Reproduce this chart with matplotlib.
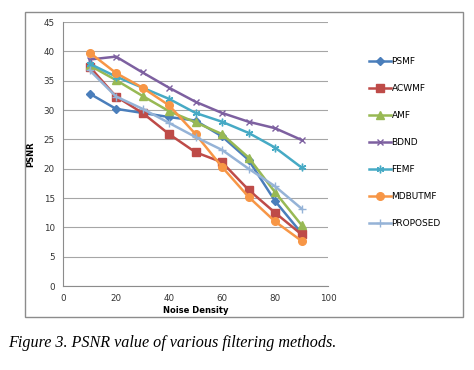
import matplotlib
matplotlib.use('Agg')
import matplotlib.pyplot as plt
from matplotlib.patches import Rectangle

# ---- data ----
noise = [10, 20, 30, 40, 50, 60, 70, 80, 90]
psmf = [32.8, 30.2, 29.5, 28.8, 28.2, 25.5, 21.5, 14.5, 9.0]
acwmf = [37.4, 32.3, 29.5, 25.9, 22.8, 21.1, 16.4, 12.5, 8.8]
amf = [37.6, 35.1, 32.4, 29.8, 27.9, 25.9, 21.9, 16.0, 10.4]
bdnd = [38.6, 39.1, 36.4, 33.8, 31.4, 29.5, 28.0, 26.9, 24.9]
femf = [37.9, 35.7, 33.8, 31.9, 29.5, 28.0, 26.1, 23.6, 20.2]
mdbutmf = [39.8, 36.3, 33.8, 30.8, 25.9, 20.3, 15.2, 11.0, 7.7]
proposed = [36.8, 32.3, 30.2, 27.8, 25.4, 23.2, 20.0, 17.0, 13.2]

names = ['PSMF', 'ACWMF', 'AMF', 'BDND', 'FEMF', 'MDBUTMF', 'PROPOSED']
series = [psmf, acwmf, amf, bdnd, femf, mdbutmf, proposed]
colors = ['#4A7EBB', '#BE4B48', '#98B954', '#7D60A0', '#46AAC5', '#F79646', '#95B3D7']
markers = ['D', 's', '^', 'x', (6, 2, 0), 'o', '+']
msizes = [4, 5.5, 5.5, 4.5, 5.5, 5.5, 5.5]

fig = plt.figure(figsize=(4.74, 3.70), dpi=100)

# chart frame (Excel-like gray border)
fig.patches.append(Rectangle((25/474, 1-317/370), 438/474, 305/370,
                             transform=fig.transFigure, fill=False,
                             edgecolor='#8c8c8c', linewidth=1.0))

ax = fig.add_axes([63/474, 1-286/370, 265/474, 264/370])
for name, vals, c, m, ms in zip(names, series, colors, markers, msizes):
    ax.plot(noise, vals, color=c, marker=m, markersize=ms, linewidth=1.8,
            markeredgewidth=1.0, label=name)

ax.set_xlim(0, 100)
ax.set_ylim(0, 45)
ax.set_xticks(range(0, 101, 20))
ax.set_yticks(range(0, 46, 5))
ax.yaxis.grid(True, color='#a6a6a6', linewidth=0.8)
ax.set_axisbelow(True)
for s in ['top', 'right']:
    ax.spines[s].set_visible(False)
for s in ['left', 'bottom']:
    ax.spines[s].set_color('#8c8c8c')
ax.tick_params(length=0, labelsize=6.3, pad=6, labelcolor='#333333')
ax.set_xlabel('Noise Density', fontsize=6, fontweight='bold', labelpad=2)
ax.set_ylabel('PSNR', fontsize=6, fontweight='bold', labelpad=6)

fig.legend(loc='upper left', bbox_to_anchor=(369/474, 1-57/370), frameon=False,
           fontsize=6.5, labelspacing=2.0, handlelength=2.4, handletextpad=0.1,
           borderpad=0, borderaxespad=0)

fig.text(8/474, 1-343/370, 'Figure 3. PSNR value of various filtering methods.',
         fontsize=11.6, fontstyle='italic', family='Liberation Serif', va='center')

fig.savefig('out.png', dpi=100)
